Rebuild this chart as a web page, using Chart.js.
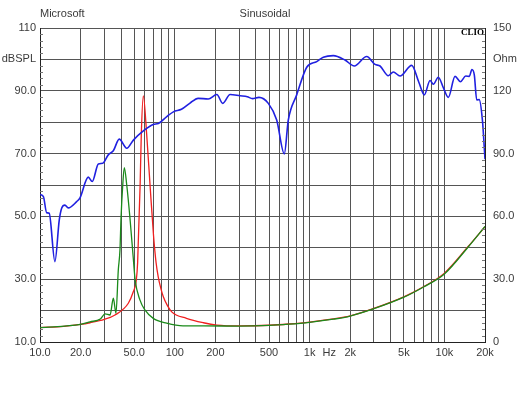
<!DOCTYPE html>
<html>
<head>
<meta charset="utf-8">
<script src="https://cdn.jsdelivr.net/npm/chart.js@4.4.0/dist/chart.umd.min.js"></script>
<style>
html, body { margin: 0; padding: 0; background: #fff; }
</style>
</head>
<body>
<canvas id="grafico" width="530" height="398"></canvas>
<script>
// curva azul: pressao sonora (dBSPL, eixo esquerdo)
const freqSpl = [10, 10.6, 11.2, 11.7, 12.9, 13.9, 14.5, 15.3, 16.2, 18.7, 19.8, 22.8, 24.4, 27.1, 29.2,
    32.1, 35.0, 38.7, 44.0, 49.3, 58.4, 69.2, 75.5, 87.2, 97.6, 112, 129, 149, 177, 205, 227, 257, 305,
    345, 377, 421, 494, 570, 649, 695, 802, 952, 1129, 1264, 1499, 1830, 2145, 2652, 3056, 3330, 3835,
    4178, 4684, 5721, 6440, 7095, 7822, 8275, 9012, 9813, 10690, 11985, 13150, 14400, 15300, 16000,
    16670, 17364, 18100, 19150, 20000];
const spl = [57.0, 56.3, 51.2, 51.0, 35.6, 48.9, 52.7, 53.6, 52.7, 54.7, 55.9, 62.5, 61.1, 66.7, 66.9,
    69.6, 70.9, 74.6, 71.7, 74.3, 77.2, 79.3, 79.6, 81.8, 83.3, 84.1, 86.0, 87.6, 87.4, 88.8, 86.0, 88.8, 88.4,
    88.1, 87.5, 87.9, 86.0, 80.7, 69.9, 80.7, 88.7, 97.5, 99.3, 100.7, 101.2, 99.8, 97.9, 100.9, 98.4, 97.9, 94.8,
    96.0, 94.7, 98.1, 92.9, 88.7, 93.3, 92.1, 94.3, 91.0, 87.9, 94.6, 92.9, 94.7, 94.6, 96.8,
    95.0, 87.1, 87.2, 80.5, 68.2];

// curva vermelha: impedancia (Ohm, eixo direito)
const freqVermelho = [10, 15, 20, 23.5, 30, 36, 45.2, 49.2, 51.8, 53.0, 55.3, 56.4, 58.4, 61.9, 65.5, 69.5,
    72.6, 75.4, 78.5, 82.2, 88, 94.8, 122, 163, 205, 300, 500, 700, 1000, 1500, 2000, 3000, 5000, 7000, 10000, 15000, 20000];
const impVermelho = [6.9, 7.5, 8.4, 9.2, 10.8, 12.9, 18.5, 24.0, 29.5, 38.0, 75.0, 98.9, 117.6, 98.9, 75.0, 51.0,
    38.0, 31.0, 26.0, 21.6, 17.5, 14.4, 11.3, 9.2, 8.1, 7.7, 8.0, 8.6, 9.5, 11.0, 12.5, 16.1, 21.6, 26.4, 32.9, 45.6, 55.1];

// curva verde: impedancia (Ohm, eixo direito)
const freqVerde = [10, 20, 23.5, 28, 30.4, 33.1, 35, 36.6, 38.1, 39.2, 39.9, 41.1, 42.2, 44.0, 46.5, 49.2,
    50.8, 55.1, 60, 69.2, 87, 115, 163, 300, 500, 700, 1000, 1500, 2000, 3000, 5000, 7000, 10000, 15000, 20000];
const impVerde = [6.9, 8.4, 9.6, 11.0, 13.4, 12.9, 20.9, 13.7, 34.5, 44.0, 59.1, 75.0, 83.3, 75.0, 59.1, 40.0,
    29.6, 20.1, 15.3, 11.3, 9.0, 7.7, 7.7, 7.6, 7.9, 8.5, 9.4, 10.9, 12.4, 15.9, 21.4, 26.3, 32.5, 45.4, 55.2];

// eixos
const ticksFreq = [10, 20, 30, 40, 50, 60, 70, 80, 90, 100, 200, 300, 400, 500, 600, 700, 800, 900,
    1000, 1400, 2000, 3000, 4000, 5000, 6000, 7000, 8000, 9000, 10000, 20000];
const labelsFreq = ['10.0', '20.0', '', '', '50.0', '', '', '', '', '100', '200', '', '', '500', '', '', '', '',
    '1k', 'Hz', '2k', '', '', '5k', '', '', '', '', '10k', '20k'];
const ticksSpl = [10, 20, 30, 40, 50, 60, 70, 80, 90, 100, 110];
const labelsSpl = ['10.0', '', '30.0', '', '50.0', '', '70.0', '', '90.0', 'dBSPL', '110'];
const ticksOhm = [0, 15, 30, 45, 60, 75, 90, 105, 120, 135, 150];
const labelsOhm = ['0', '', '30.0', '', '60.0', '', '90.0', '', '120', 'Ohm', '150'];

const pontos = (xs, ys) => xs.map((x, i) => ({ x: x, y: ys[i] }));

const fonte = { family: 'Liberation Sans, Arial, sans-serif', size: 11 };
const corTexto = '#3a3a3a';
const corGrade = '#555';

// textos do topo e tracinhos menores do eixo
const extras = {
    id: 'extras',
    afterDraw(chart) {
        const { ctx, chartArea } = chart;
        const y = chart.scales.y;
        ctx.save();
        ctx.strokeStyle = '#777';
        ctx.lineWidth = 1;
        ctx.beginPath();
        for (let v = 12; v < 110; v += 2) {
            if (v % 10 === 0) continue;
            const py = Math.round(y.getPixelForValue(v)) + 0.5;
            ctx.moveTo(chartArea.left, py);
            ctx.lineTo(chartArea.left + 3, py);
            ctx.moveTo(chartArea.right, py);
            ctx.lineTo(chartArea.right - 3, py);
        }
        ctx.stroke();

        ctx.fillStyle = corTexto;
        ctx.font = '11px Liberation Sans, Arial, sans-serif';
        ctx.textBaseline = 'middle';
        ctx.textAlign = 'left';
        ctx.fillText('Microsoft', chartArea.left, 14);
        ctx.textAlign = 'center';
        ctx.fillText('Sinusoidal', chart.width / 2, 14);
        ctx.fillStyle = '#000';
        ctx.font = 'bold 9px Liberation Serif, serif';
        ctx.textAlign = 'right';
        ctx.fillText('CLIO', chartArea.right - 1, chartArea.top + 5);
        ctx.restore();
    }
};

new Chart(document.getElementById('grafico').getContext('2d'), {
    type: 'line',
    data: {
        datasets: [{
            label: 'SPL',
            data: pontos(freqSpl, spl),
            borderColor: '#2020e0',
            borderWidth: 1.6,
            yAxisID: 'y',
            order: 1
        }, {
            label: 'Impedancia verde',
            data: pontos(freqVerde, impVerde),
            borderColor: '#1a8a1a',
            borderWidth: 1.3,
            yAxisID: 'y1',
            order: 2
        }, {
            label: 'Impedancia vermelha',
            data: pontos(freqVermelho, impVermelho),
            borderColor: '#f02020',
            borderWidth: 1.3,
            yAxisID: 'y1',
            order: 3
        }]
    },
    options: {
        responsive: false,
        animation: false,
        devicePixelRatio: 1,
        layout: { padding: { top: 28, left: 0, right: 0, bottom: 0 } },
        elements: {
            point: { radius: 0 },
            line: { cubicInterpolationMode: 'monotone', fill: false }
        },
        plugins: {
            legend: { display: false },
            tooltip: { enabled: false }
        },
        scales: {
            x: {
                type: 'logarithmic',
                min: 10,
                max: 20000,
                afterBuildTicks: s => { s.ticks = ticksFreq.map(v => ({ value: v })); },
                afterFit: s => { s.height = 56; },
                grid: {
                    color: c => labelsFreq[c.index] === 'Hz' ? 'rgba(0,0,0,0)' : corGrade,
                    drawTicks: false
                },
                border: { color: '#222' },
                ticks: {
                    autoSkip: false,
                    maxRotation: 0,
                    padding: 4,
                    color: corTexto,
                    font: fonte,
                    callback: (v, i) => labelsFreq[i]
                }
            },
            y: {
                position: 'left',
                min: 10,
                max: 110,
                afterBuildTicks: s => { s.ticks = ticksSpl.map(v => ({ value: v })); },
                afterFit: s => { s.width = 40; },
                grid: { color: corGrade, drawTicks: false },
                border: { color: '#222' },
                ticks: {
                    autoSkip: false,
                    padding: 4,
                    color: corTexto,
                    font: fonte,
                    callback: (v, i) => labelsSpl[i]
                }
            },
            y1: {
                position: 'right',
                min: 0,
                max: 150,
                afterBuildTicks: s => { s.ticks = ticksOhm.map(v => ({ value: v })); },
                afterFit: s => { s.width = 45; },
                grid: { drawOnChartArea: false, drawTicks: false },
                border: { color: '#222' },
                ticks: {
                    autoSkip: false,
                    padding: 8,
                    color: corTexto,
                    font: fonte,
                    callback: (v, i) => labelsOhm[i]
                }
            }
        }
    },
    plugins: [extras]
});
</script>
</body>
</html>
